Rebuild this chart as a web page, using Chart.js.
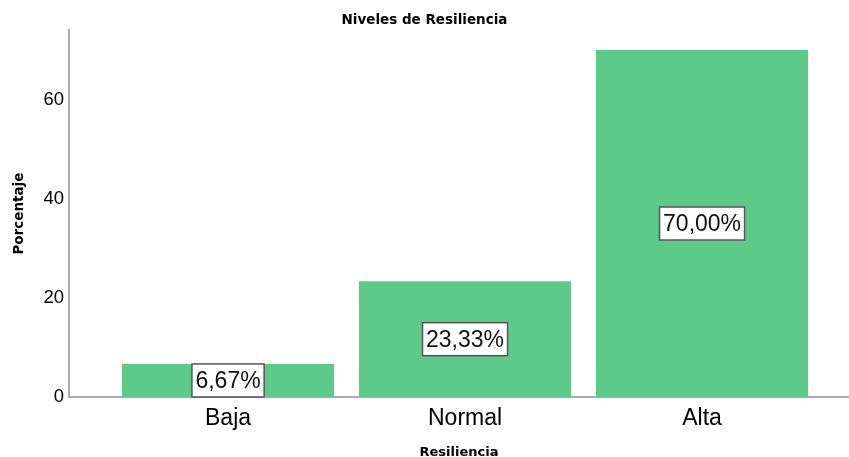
<!DOCTYPE html>
<html>
<head>
<meta charset="utf-8">
<script src="https://cdn.jsdelivr.net/npm/chart.js@4"></script>
<style>
  body { margin: 0; background: #fff; }
  #caja { width: 849px; height: 457px; }
</style>
</head>
<body>
<div id="caja"><canvas id="grafico"></canvas></div>
<script>
let categorias = ['Baja', 'Normal', 'Alta'];
let porcentajes = [6.67, 23.33, 70.00];
let ticksY = [0, 20, 40, 60];

let verde = '#5ECA8A';
let gris = '#ababab';

// etiquetas con recuadro blanco en el centro de cada barra
let etiquetas = {
  id: 'etiquetas',
  afterDatasetsDraw(chart) {
    let ctx = chart.ctx;
    let meta = chart.getDatasetMeta(0);
    ctx.save();
    ctx.font = '23px "Liberation Sans", Arial, sans-serif';
    ctx.textAlign = 'center';
    ctx.textBaseline = 'middle';
    meta.data.forEach((barra, i) => {
      let texto = porcentajes[i].toFixed(2).replace('.', ',') + '%';
      let p = barra.getCenterPoint();
      let ancho = ctx.measureText(texto).width + 7;
      let alto = 33;
      ctx.fillStyle = '#fff';
      ctx.fillRect(p.x - ancho / 2, p.y - alto / 2, ancho, alto);
      ctx.strokeStyle = '#555';
      ctx.lineWidth = 1.5;
      ctx.strokeRect(p.x - ancho / 2, p.y - alto / 2, ancho, alto);
      ctx.fillStyle = '#111';
      ctx.fillText(texto, p.x, p.y + 1);
    });
    ctx.restore();
  }
};

new Chart(document.getElementById('grafico'), {
  type: 'bar',
  data: {
    datasets: [{
      label: 'Porcentaje',
      data: categorias.map((c, i) => ({ x: i, y: porcentajes[i] })),
      backgroundColor: verde,
      borderWidth: 0,
      categoryPercentage: 1,
      barPercentage: 0.895
    }]
  },
  options: {
    responsive: true,
    maintainAspectRatio: false,
    animation: false,
    layout: { padding: 0 },
    plugins: {
      legend: { display: false },
      tooltip: { enabled: false },
      title: {
        display: true,
        text: 'Niveles de Resiliencia',
        color: '#000',
        font: { family: '"DejaVu Sans"', size: 13.5, weight: 'bold' },
        padding: { top: 12, bottom: 2 }
      }
    },
    scales: {
      x: {
        type: 'linear',
        offset: false,
        min: -0.671,
        max: 2.62,
        grid: { display: false, drawTicks: false, offset: false },
        border: { display: true, color: gris, width: 2 },
        afterBuildTicks(eje) { eje.ticks = categorias.map((c, i) => ({ value: i })); },
        ticks: {
          padding: 8,
          color: '#000',
          font: { family: '"Liberation Sans"', size: 23 },
          callback: v => categorias[v]
        },
        title: {
          display: true,
          text: 'Resiliencia',
          color: '#000',
          font: { family: '"DejaVu Sans"', size: 13, weight: 'bold' },
          padding: { top: 0, bottom: -3 }
        },
        afterFit(eje) { eje.height = 60; }
      },
      y: {
        min: 0,
        max: 74,
        grid: { display: false, drawTicks: false },
        border: { display: true, color: gris, width: 2 },
        afterBuildTicks(eje) { eje.ticks = ticksY.map(v => ({ value: v })); },
        ticks: {
          padding: 5,
          color: '#000',
          font: { family: '"Liberation Sans"', size: 18.5 }
        },
        title: {
          display: true,
          text: 'Porcentaje',
          color: '#000',
          font: { family: '"DejaVu Sans"', size: 13.5, weight: 'bold' },
          padding: { top: 11, bottom: 0 }
        },
        afterFit(eje) { eje.width = 69; }
      }
    }
  },
  plugins: [etiquetas]
});
</script>
</body>
</html>
